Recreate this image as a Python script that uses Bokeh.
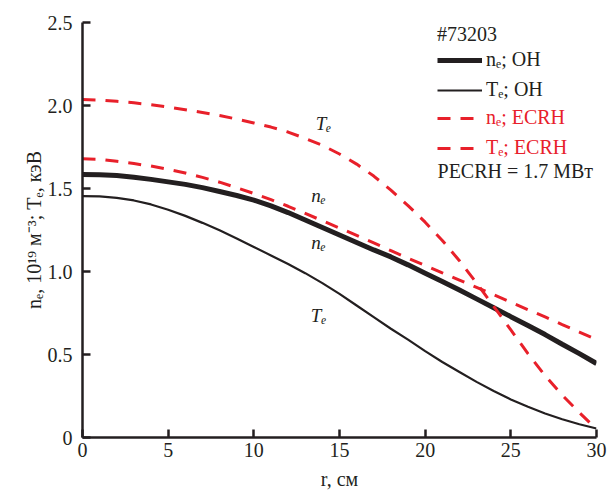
from bokeh.plotting import figure
from bokeh.models import Range1d, Legend, LegendItem, Label, FixedTicker
from bokeh.embed import file_html
from bokeh.resources import INLINE

# ---- data ----
r = list(range(0, 31))
ne_oh = [1.585, 1.583, 1.578, 1.568, 1.555, 1.540, 1.525, 1.505, 1.482, 1.458,
         1.430, 1.395, 1.355, 1.310, 1.265, 1.220, 1.175, 1.130, 1.088, 1.040,
         0.990, 0.940, 0.888, 0.835, 0.782, 0.728, 0.675, 0.620, 0.562, 0.505, 0.446]
te_oh = [1.454, 1.452, 1.444, 1.428, 1.404, 1.372, 1.335, 1.293, 1.248, 1.199,
         1.148, 1.097, 1.045, 0.990, 0.930, 0.865, 0.795, 0.725, 0.655, 0.590,
         0.520, 0.455, 0.395, 0.335, 0.280, 0.229, 0.185, 0.145, 0.110, 0.080, 0.054]
ne_ecrh = [1.679, 1.676, 1.664, 1.650, 1.635, 1.615, 1.593, 1.567, 1.538, 1.505,
           1.470, 1.433, 1.393, 1.350, 1.306, 1.262, 1.217, 1.172, 1.126, 1.080,
           1.037, 0.992, 0.948, 0.904, 0.860, 0.815, 0.770, 0.726, 0.680, 0.635, 0.590]
te_ecrh = [2.036, 2.033, 2.025, 2.016, 2.005, 1.991, 1.975, 1.958, 1.940, 1.918,
           1.895, 1.870, 1.840, 1.802, 1.760, 1.708, 1.647, 1.575, 1.490, 1.397,
           1.297, 1.187, 1.065, 0.930, 0.790, 0.648, 0.505, 0.372, 0.255, 0.150, 0.050]

x_ticks = [0, 5, 10, 15, 20, 25, 30]
y_ticks = [0, 0.5, 1.0, 1.5, 2.0, 2.5]
y_tick_labels = ["0", "0.5", "1.0", "1.5", "2.0", "2.5"]

legend_title = "#73203"
series_labels = ["nₑ; OH", "Tₑ; OH", "nₑ; ECRH", "Tₑ; ECRH"]
power_note = "PECRH = 1.7 МВт"
curve_notes = [("Tₑ", 14.07, 1.893), ("nₑ", 13.78, 1.46), ("nₑ", 13.78, 1.172), ("Tₑ", 13.78, 0.733)]

BLACK = "#231f20"
RED = "#e8202a"
FONT = "Liberation Serif"

p = figure(width=607, height=492, output_backend="svg", toolbar_location=None,
           x_range=Range1d(0, 30), y_range=Range1d(0, 2.5),
           min_border_left=82, min_border_right=11, min_border_top=22, min_border_bottom=54)
p.outline_line_color = None
p.grid.visible = False

p.xaxis.ticker = FixedTicker(ticks=x_ticks)
p.yaxis.ticker = FixedTicker(ticks=y_ticks)
p.yaxis.major_label_overrides = {t: s for t, s in zip(y_ticks, y_tick_labels)}
p.xaxis.axis_label = "r, см"
p.yaxis.axis_label = "nₑ, 10¹⁹ м⁻³; Tₑ, кэВ"

for ax in (p.xaxis[0], p.yaxis[0]):
    ax.axis_line_width = 2.5
    ax.axis_line_color = BLACK
    ax.major_tick_in = 8
    ax.major_tick_out = 0
    ax.major_tick_line_width = 2.5
    ax.major_tick_line_color = BLACK
    ax.minor_tick_line_color = None
    ax.major_label_text_font = FONT
    ax.major_label_text_font_size = "20px"
    ax.major_label_text_color = BLACK
    ax.axis_label_text_font = FONT
    ax.axis_label_text_font_size = "20px"
    ax.axis_label_text_font_style = "normal"
    ax.axis_label_text_color = BLACK
p.xaxis.major_label_standoff = 5
p.xaxis.axis_label_standoff = 8
p.yaxis.major_label_standoff = 10
p.yaxis.axis_label_standoff = 0

l1 = p.line(r, ne_oh, line_color=BLACK, line_width=5)
l2 = p.line(r, te_oh, line_color=BLACK, line_width=2.2)
l3 = p.line(r, ne_ecrh, line_color=RED, line_width=3, line_dash="13 10")
l4 = p.line(r, te_ecrh, line_color=RED, line_width=3, line_dash="13 10")

for txt, x, y in curve_notes:
    p.add_layout(Label(x=x, y=y, text=txt, text_font=FONT, text_font_size="19px",
                       text_font_style="italic", text_color=BLACK,
                       text_align="center", text_baseline="middle"))

leg1 = Legend(items=[LegendItem(label=series_labels[0], renderers=[l1]),
                     LegendItem(label=series_labels[1], renderers=[l2])],
              title=legend_title, location=(355, 336))
leg2 = Legend(items=[LegendItem(label=series_labels[2], renderers=[l3]),
                     LegendItem(label=series_labels[3], renderers=[l4])],
              location=(355, 278))
for leg, col in ((leg1, BLACK), (leg2, RED)):
    leg.background_fill_alpha = 0
    leg.border_line_color = None
    leg.padding = 0
    leg.margin = 0
    leg.spacing = 7
    leg.glyph_width = 45
    leg.glyph_height = 20
    leg.label_height = 20
    leg.label_standoff = 4
    leg.label_text_font = FONT
    leg.label_text_font_size = "20px"
    leg.label_text_color = col
    leg.label_text_baseline = "middle"
    leg.title_text_font = FONT
    leg.title_text_font_size = "20px"
    leg.title_text_font_style = "normal"
    leg.title_text_color = BLACK
    leg.title_standoff = 2
    p.add_layout(leg)

p.add_layout(Label(x=20.72, y=1.605, text=power_note, text_font=FONT, text_font_size="20px",
                   text_color=BLACK, text_align="left", text_baseline="middle"))

open("out.html", "w").write(file_html(p, INLINE))
